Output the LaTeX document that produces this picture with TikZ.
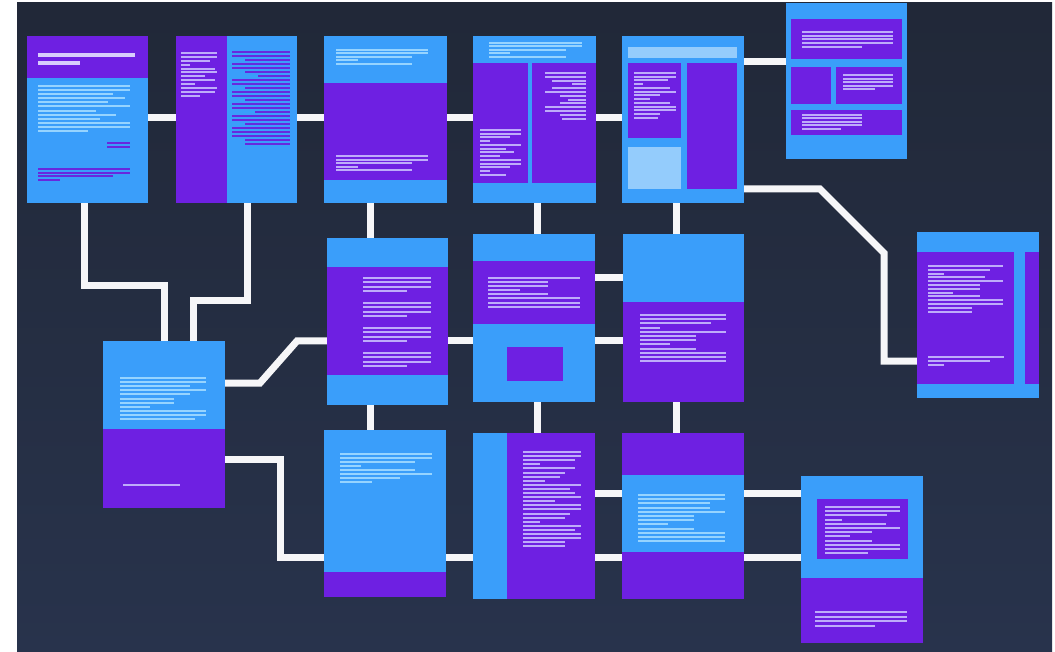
\documentclass[tikz,border=0pt]{standalone}
\usetikzlibrary{calc}
\definecolor{bgtop}{RGB}{33,40,56}
\definecolor{bgbot}{RGB}{40,51,76}
\definecolor{blu}{RGB}{58,158,250}
\definecolor{pur}{RGB}{110,32,226}
\definecolor{ltb}{RGB}{150,212,255}
\definecolor{lav}{RGB}{190,172,250}
\definecolor{pbar}{RGB}{104,40,222}
\definecolor{pale}{RGB}{148,204,252}
\definecolor{wire}{RGB}{246,246,248}
\pgfdeclarelayer{back}
\pgfdeclarelayer{mid}
\pgfsetlayers{back,mid,main}
\newcommand\tlines[5]{\foreach \r [count=\i from 0] in {#5}{\draw[#1] (#2,{#3+\i*#4}) -- (\r,{#3+\i*#4});}}
\newcommand\rlines[5]{\foreach \l [count=\i from 0] in {#5}{\draw[#1] (\l,{#3+\i*#4}) -- (#2,{#3+\i*#4});}}
\tikzset{
  box/.style={rectangle,inner sep=0pt,outer sep=0pt,anchor=north west,draw=none},
  bb/.style={box,fill=blu},
  pb/.style={box,fill=pur},
  conn/.style={draw=wire,line width=7pt},
  lb/.style={draw=ltb,line width=2pt},
  lv/.style={draw=lav,line width=2pt},
  lp/.style={draw=pbar,line width=2pt},
  hw/.style={draw=lav!60!white,line width=3.5pt},
}
\begin{document}
\begin{tikzpicture}[x=1pt,y=-1pt]
\useasboundingbox (0,0) rectangle (1055,652);
\begin{pgfonlayer}{back}
\fill[white] (0,0) rectangle (1055,652);
\shade[top color=bgtop,bottom color=bgbot] (17,3) rectangle (1052,652);
\end{pgfonlayer}

% ---------- boxes ----------
\node[bb,minimum width=121pt,minimum height=167pt] (A) at (27,36) {};
\node[bb,minimum width=121pt,minimum height=167pt] (B) at (176,36) {};
\node[bb,minimum width=123pt,minimum height=167pt] (C) at (324,36) {};
\node[bb,minimum width=123pt,minimum height=167pt] (C2) at (473,36) {};
\node[bb,minimum width=122pt,minimum height=167pt] (E2) at (622,36) {};
\node[bb,minimum width=121pt,minimum height=156pt] (F) at (786,3) {};
\node[bb,minimum width=122pt,minimum height=166pt] (G) at (917,232) {};
\node[bb,minimum width=122pt,minimum height=167pt] (D) at (103,341) {};
\node[bb,minimum width=121pt,minimum height=167pt] (E) at (327,238) {};
\node[bb,minimum width=122pt,minimum height=168pt] (M) at (473,234) {};
\node[bb,minimum width=121pt,minimum height=168pt] (N) at (623,234) {};
\node[bb,minimum width=122pt,minimum height=167pt] (H) at (324,430) {};
\node[pb,minimum width=122pt,minimum height=166pt] (I) at (473,433) {};
\node[pb,minimum width=122pt,minimum height=166pt] (J) at (622,433) {};
\node[bb,minimum width=122pt,minimum height=167pt] (K) at (801,476) {};

% ---------- connectors ----------
\begin{pgfonlayer}{mid}
\draw[conn] (A.east|-0,118) -- (B.west|-0,118);
\draw[conn] (B.east|-0,118) -- (C.west|-0,118);
\draw[conn] (C.east|-0,118) -- (C2.west|-0,118);
\draw[conn] (C2.east|-0,118) -- (E2.west|-0,118);
\draw[conn] (E2.east|-0,62) -- (F.west|-0,62);
\draw[conn] (E2.east|-0,189) -- (820,189) -- (884,253) -- (884,361) -- (G.west|-0,361);
\draw[conn] (A.south-|84,0) -- (84,286) -- (164,286) -- (D.north-|164,0);
\draw[conn] (B.south-|247,0) -- (247,301) -- (193,301) -- (D.north-|193,0);
\draw[conn] (D.east|-0,383) -- (260,383) -- (297,341) -- (E.west|-0,341);
\draw[conn] (D.east|-0,459) -- (280,459) -- (280,557) -- (H.west|-0,557);
\draw[conn] (C.south-|370,0) -- (E.north-|370,0);
\draw[conn] (E.south-|370,0) -- (H.north-|370,0);
\draw[conn] (C2.south-|537,0) -- (M.north-|537,0);
\draw[conn] (M.south-|537,0) -- (I.north-|537,0);
\draw[conn] (E2.south-|676,0) -- (N.north-|676,0);
\draw[conn] (N.south-|676,0) -- (J.north-|676,0);
\draw[conn] (E.east|-0,341) -- (M.west|-0,341);
\draw[conn] (M.east|-0,278) -- (N.west|-0,278);
\draw[conn] (M.east|-0,341) -- (N.west|-0,341);
\draw[conn] (H.east|-0,557) -- (I.west|-0,557);
\draw[conn] (I.east|-0,493) -- (J.west|-0,493);
\draw[conn] (I.east|-0,557) -- (J.west|-0,557);
\draw[conn] (J.east|-0,493) -- (K.west|-0,493);
\draw[conn] (J.east|-0,557) -- (K.west|-0,557);
\end{pgfonlayer}

% ---------- A ----------
\fill[pur] (27,36) rectangle (148,78);
\draw[hw] (38,55) -- (135,55);
\draw[hw] (38,63) -- (80,63);
\tlines{lb}{38}{86}{4.1}{130,130,113,125,108,130,96,116,100,130,130,88}
\tlines{lp}{107}{143}{4.5}{130,130}
\tlines{lp}{38}{169}{3.6}{130,130,113,60}

% ---------- B ----------
\fill[pur] (176,36) rectangle (227,203);
\tlines{lv}{181}{53}{3.9}{217,217,210,190,215,217,205,215,195,217,215,200}
\rlines{lp}{290}{52}{4}{232,232,245,232,232,245,258,232,232,245,232,232,245,232,232,255,232,232,245,232,232,232,245,245}

% ---------- C ----------
\fill[pur] (324,83) rectangle (447,180);
\tlines{lb}{336}{50}{3.5}{428,428,412,358,412}
\tlines{lv}{336}{156}{3.6}{428,428,412,358,412}

% ---------- C2 ----------
\fill[pur] (473,63) rectangle (528,183);
\fill[pur] (532,63) rectangle (596,183);
\tlines{lb}{489}{43}{3.5}{582,582,566,510,566}
\rlines{lv}{586}{73}{3.8}{545,545,552,572,552,545,560,568,560,545,545,560,562}
\tlines{lv}{480}{130}{3.75}{521,521,510,490,521,506,514,500,521,521,510,490,506}

% ---------- E2 ----------
\fill[pale] (628,47) rectangle (737,58);
\fill[pur] (628,63) rectangle (681,138);
\tlines{lv}{634}{73}{3.75}{676,676,668,643,670,676,660,650,670,676,676,660,658}
\fill[pale] (628,147) rectangle (681,189);
\fill[pur] (687,63) rectangle (737,189);

% ---------- F ----------
\fill[pur] (791,19) rectangle (902,59);
\tlines{lv}{802}{32}{3.7}{893,893,893,893,862}
\fill[pur] (791,67) rectangle (831,104);
\fill[pur] (836,67) rectangle (902,104);
\tlines{lv}{843}{75}{3.6}{893,893,893,893,875}
\fill[pur] (791,110) rectangle (902,135);
\tlines{lv}{802}{115}{3.5}{862,862,862,862,841}

% ---------- G ----------
\fill[pur] (917,252) rectangle (1014,384);
\fill[pur] (1025,252) rectangle (1039,384);
\tlines{lv}{928}{266}{3.8}{1003,990,944,985,1003,980,980,953,980,1003,1003,972,972}
\tlines{lv}{928}{357}{4}{1004,990,944}

% ---------- D ----------
\fill[pur] (103,429) rectangle (225,508);
\tlines{lb}{120}{378}{4.1}{206,206,190,206,190,174,174,150,206,206,195}
\draw[lv] (123,485) -- (180,485);

% ---------- E ----------
\fill[pur] (327,267) rectangle (448,375);
\foreach \g in {278,303,328,353}{\tlines{lv}{363}{\g}{4.3}{431,431,431,407}}

% ---------- M ----------
\fill[pur] (473,261) rectangle (595,324);
\fill[pur] (507,347) rectangle (563,381);
\tlines{lv}{488}{278}{4.1}{580,548,548,520,548,580,580,580}

% ---------- N ----------
\fill[pur] (623,302) rectangle (744,402);
\tlines{lv}{640}{315}{4.2}{726,726,711,660,726,696,696,670,696,726,726,726}

% ---------- H ----------
\fill[pur] (324,572) rectangle (446,597);
\tlines{lb}{340}{454}{4}{432,432,415,361,415,432,400,372}

% ---------- I ----------
\fill[blu] (473,433) rectangle (507,599);
\tlines{lv}{523}{452}{4.1}{581,581,575,540,575,565,560,545,581,570,575,581,555,581,581,570,565,540,581,575,581,581,565,565}

% ---------- J ----------
\fill[blu] (622,475) rectangle (744,552);
\tlines{lb}{638}{495}{4.2}{725,725,710,710,725,694,694,668,694,725,725,725}

% ---------- K ----------
\fill[pur] (801,578) rectangle (923,643);
\fill[pur] (817,499) rectangle (908,559);
\tlines{lv}{825}{507}{4.2}{900,900,887,842,886,900,872,850,872,900,900,868}
\tlines{lv}{815}{612}{4.5}{907,907,907,875}
\end{tikzpicture}
\end{document}
